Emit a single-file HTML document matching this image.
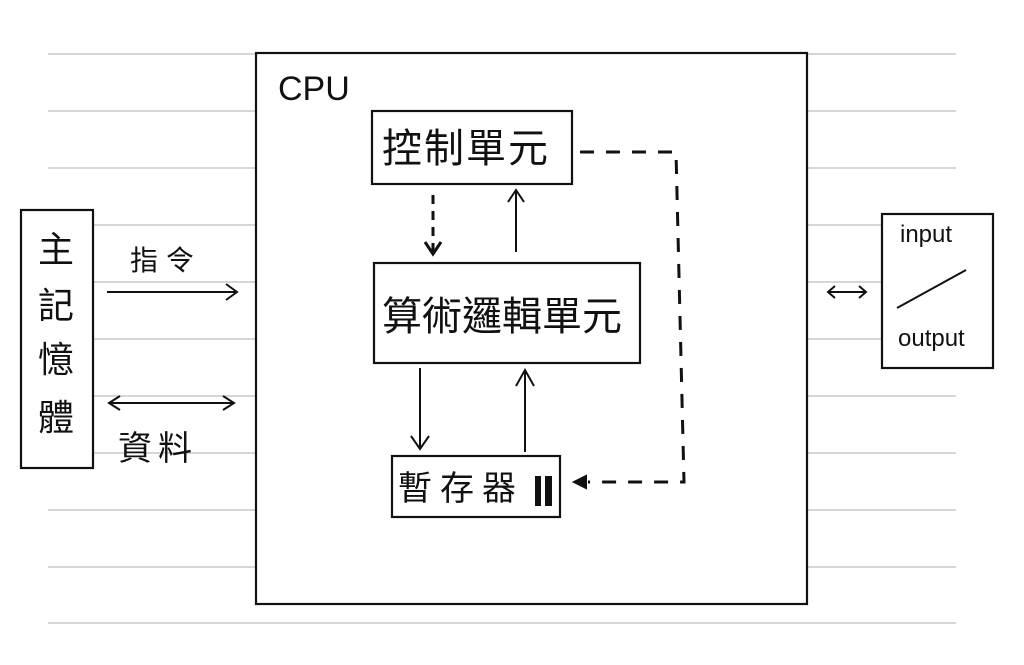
<!DOCTYPE html>
<html><head><meta charset="utf-8"><style>
html,body{margin:0;padding:0;background:#fff}
svg{display:block}
text{font-family:"Liberation Sans","Noto Sans CJK TC",sans-serif;fill:#111}
</style></head><body>
<svg width="1024" height="665" viewBox="0 0 1024 665" xmlns="http://www.w3.org/2000/svg">
<g stroke="#d6d6d6" stroke-width="2">
<line x1="48" y1="54" x2="956" y2="54"/><line x1="48" y1="111" x2="956" y2="111"/>
<line x1="48" y1="168" x2="956" y2="168"/><line x1="48" y1="225" x2="956" y2="225"/>
<line x1="48" y1="282" x2="956" y2="282"/><line x1="48" y1="339" x2="956" y2="339"/>
<line x1="48" y1="396" x2="956" y2="396"/><line x1="48" y1="453" x2="956" y2="453"/>
<line x1="48" y1="510" x2="956" y2="510"/><line x1="48" y1="567" x2="956" y2="567"/>
<line x1="48" y1="623" x2="956" y2="623"/>
</g>
<g fill="#fff" stroke="#111" stroke-width="2.2">
<rect x="256" y="53" width="551" height="551"/>
<rect x="372" y="111" width="200" height="73"/>
<rect x="374" y="263" width="266" height="100"/>
<rect x="392" y="456" width="168" height="61"/>
<rect x="21" y="210" width="72" height="258"/>
<rect x="882" y="214" width="111" height="154"/>
</g>
<text x="278" y="100" font-size="34">CPU</text>
<text x="382" y="162" font-size="40" letter-spacing="2">控制單元</text>
<text x="382" y="330" font-size="40">算術邏輯單元</text>
<text x="398" y="500" font-size="34" letter-spacing="8">暫存器</text>
<rect x="535" y="476" width="6" height="30" fill="#111"/><rect x="545" y="476" width="7" height="30" fill="#111"/>
<g font-size="36"><text x="38" y="262">主</text><text x="38" y="318">記</text><text x="38" y="372">憶</text><text x="38" y="430">體</text></g>
<text x="130" y="270" font-size="28" letter-spacing="8">指令</text>
<text x="118" y="460" font-size="34" letter-spacing="6">資料</text>
<text x="900" y="242" font-size="24">input</text>
<text x="898" y="346" font-size="24">output</text>
<g stroke="#111" stroke-width="2" fill="none">
<line x1="897" y1="308" x2="966" y2="270"/>
<line x1="107" y1="292" x2="236" y2="292"/><polyline points="226,284 237,292 226,300"/>
<line x1="110" y1="403" x2="233" y2="403"/><polyline points="120,396 109,403 120,410"/><polyline points="223,396 234,403 223,410"/>
<line x1="828" y1="292" x2="866" y2="292"/><polyline points="835,286 828,292 835,298"/><polyline points="859,286 866,292 859,298"/>
<line x1="516" y1="252" x2="516" y2="192"/><polyline points="508,202 516,190 524,202"/>
<line x1="420" y1="368" x2="420" y2="448"/><polyline points="411,436 420,449 429,436"/>
<line x1="525" y1="452" x2="525" y2="372"/><polyline points="516,386 525,370 534,386"/>
<line x1="433" y1="195" x2="433" y2="252" stroke-dasharray="9,7" stroke-width="3"/><polyline points="425,242 433,254 441,242" stroke-width="3"/>
<g stroke-width="3" stroke-dasharray="14,12">
<polyline points="580,152 676,152 684,482 588,482"/>
</g>
<polygon points="574,482 586,476 586,488" fill="#111"/>
</g>
</svg>
</body></html>
